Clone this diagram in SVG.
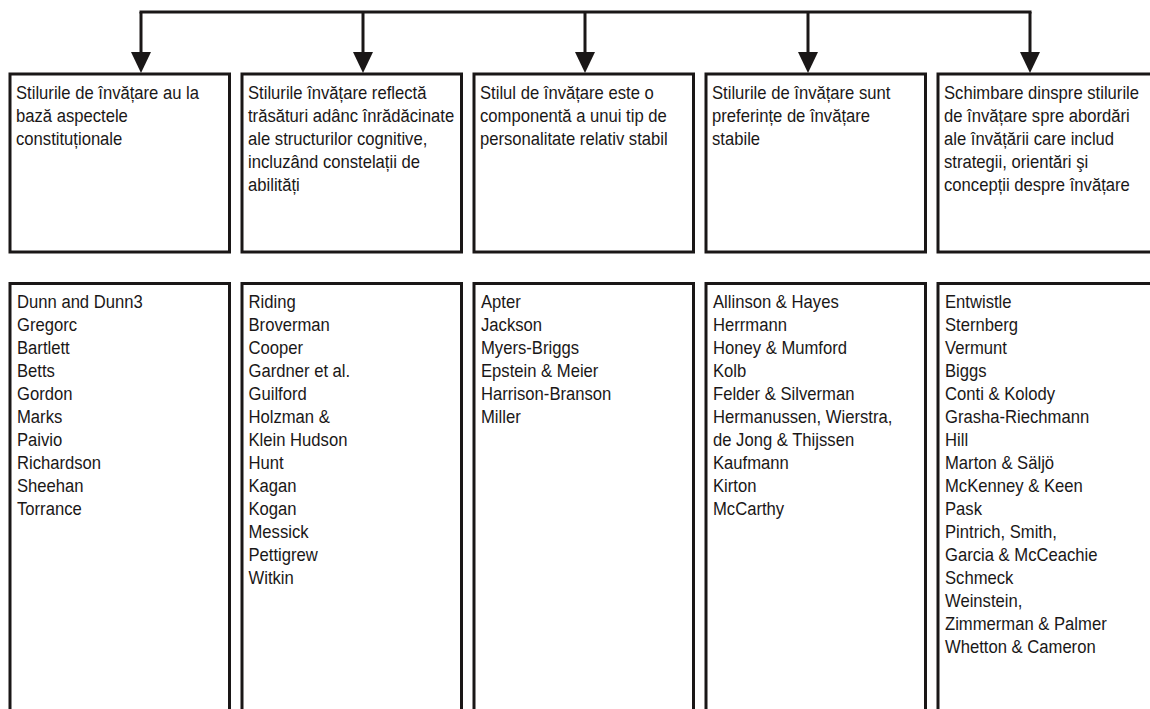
<svg xmlns="http://www.w3.org/2000/svg" width="1150" height="709" viewBox="0 0 1150 709">
<style>
.box{fill:#fff;stroke:#1a1717;stroke-width:3}
.t{font-family:"Liberation Sans",Arial,sans-serif;font-size:18.5px;fill:#1a1717}
.c{fill:none;stroke:#1a1717;stroke-width:3}
</style>
<defs>
<marker id="ah" markerUnits="userSpaceOnUse" viewBox="0 0 21 20" markerWidth="21" markerHeight="20" refX="13" refY="10" orient="auto">
<path d="M0,0 L21,10 L0,20 z" fill="#1a1717"/>
</marker>
</defs>
<rect width="1150" height="709" fill="#fff"/>
<g id="connectors">
<path class="c" d="M141,12 H1030" stroke-linecap="square"/>
<path class="c" d="M141,12 V65" marker-end="url(#ah)"/>
<path class="c" d="M363,12 V65" marker-end="url(#ah)"/>
<path class="c" d="M585,12 V65" marker-end="url(#ah)"/>
<path class="c" d="M808,12 V65" marker-end="url(#ah)"/>
<path class="c" d="M1030,12 V65" marker-end="url(#ah)"/>
</g>
<g id="h1">
<rect class="box" x="10" y="74" width="219.5" height="178"/>
<text class="t" transform="translate(16 99.3) scale(0.9 1)"><tspan x="0" y="0">Stilurile de învățare au la</tspan><tspan x="0" y="23">bază aspectele</tspan><tspan x="0" y="46">constituționale</tspan></text>
</g>
<g id="h2">
<rect class="box" x="242" y="74" width="219.5" height="178"/>
<text class="t" transform="translate(248 99.3) scale(0.9 1)"><tspan x="0" y="0">Stilurile învățare reflectă</tspan><tspan x="0" y="23">trăsături adânc înrădăcinate</tspan><tspan x="0" y="46">ale structurilor cognitive,</tspan><tspan x="0" y="69">incluzând constelații de</tspan><tspan x="0" y="92">abilități</tspan></text>
</g>
<g id="h3">
<rect class="box" x="474" y="74" width="219.5" height="178"/>
<text class="t" transform="translate(480 99.3) scale(0.9 1)"><tspan x="0" y="0">Stilul de învățare este o</tspan><tspan x="0" y="23">componentă a unui tip de</tspan><tspan x="0" y="46">personalitate relativ stabil</tspan></text>
</g>
<g id="h4">
<rect class="box" x="706" y="74" width="219.5" height="178"/>
<text class="t" transform="translate(712 99.3) scale(0.9 1)"><tspan x="0" y="0">Stilurile de învățare sunt</tspan><tspan x="0" y="23">preferințe de învățare</tspan><tspan x="0" y="46">stabile</tspan></text>
</g>
<g id="h5">
<rect class="box" x="938" y="74" width="219.5" height="178"/>
<text class="t" transform="translate(944 99.3) scale(0.9 1)"><tspan x="0" y="0">Schimbare dinspre stilurile</tspan><tspan x="0" y="23">de învățare spre abordări</tspan><tspan x="0" y="46">ale învățării care includ</tspan><tspan x="0" y="69">strategii, orientări şi</tspan><tspan x="0" y="92">concepții despre învățare</tspan></text>
</g>
<g id="l1">
<rect class="box" x="10" y="283.5" width="219.5" height="440"/>
<text class="t" transform="translate(17 308.3) scale(0.9 1)"><tspan x="0" y="0">Dunn and Dunn3</tspan><tspan x="0" y="23">Gregorc</tspan><tspan x="0" y="46">Bartlett</tspan><tspan x="0" y="69">Betts</tspan><tspan x="0" y="92">Gordon</tspan><tspan x="0" y="115">Marks</tspan><tspan x="0" y="138">Paivio</tspan><tspan x="0" y="161">Richardson</tspan><tspan x="0" y="184">Sheehan</tspan><tspan x="0" y="207">Torrance</tspan></text>
</g>
<g id="l2">
<rect class="box" x="242" y="283.5" width="219.5" height="440"/>
<text class="t" transform="translate(248.5 308.3) scale(0.9 1)"><tspan x="0" y="0">Riding</tspan><tspan x="0" y="23">Broverman</tspan><tspan x="0" y="46">Cooper</tspan><tspan x="0" y="69">Gardner et al.</tspan><tspan x="0" y="92">Guilford</tspan><tspan x="0" y="115">Holzman &amp;</tspan><tspan x="0" y="138">Klein Hudson</tspan><tspan x="0" y="161">Hunt</tspan><tspan x="0" y="184">Kagan</tspan><tspan x="0" y="207">Kogan</tspan><tspan x="0" y="230">Messick</tspan><tspan x="0" y="253">Pettigrew</tspan><tspan x="0" y="276">Witkin</tspan></text>
</g>
<g id="l3">
<rect class="box" x="474" y="283.5" width="219.5" height="440"/>
<text class="t" transform="translate(481 308.3) scale(0.9 1)"><tspan x="0" y="0">Apter</tspan><tspan x="0" y="23">Jackson</tspan><tspan x="0" y="46">Myers-Briggs</tspan><tspan x="0" y="69">Epstein &amp; Meier</tspan><tspan x="0" y="92">Harrison-Branson</tspan><tspan x="0" y="115">Miller</tspan></text>
</g>
<g id="l4">
<rect class="box" x="706" y="283.5" width="219.5" height="440"/>
<text class="t" transform="translate(713 308.3) scale(0.9 1)"><tspan x="0" y="0">Allinson &amp; Hayes</tspan><tspan x="0" y="23">Herrmann</tspan><tspan x="0" y="46">Honey &amp; Mumford</tspan><tspan x="0" y="69">Kolb</tspan><tspan x="0" y="92">Felder &amp; Silverman</tspan><tspan x="0" y="115">Hermanussen, Wierstra,</tspan><tspan x="0" y="138">de Jong &amp; Thijssen</tspan><tspan x="0" y="161">Kaufmann</tspan><tspan x="0" y="184">Kirton</tspan><tspan x="0" y="207">McCarthy</tspan></text>
</g>
<g id="l5">
<rect class="box" x="938" y="283.5" width="219.5" height="440"/>
<text class="t" transform="translate(945 308.3) scale(0.9 1)"><tspan x="0" y="0">Entwistle</tspan><tspan x="0" y="23">Sternberg</tspan><tspan x="0" y="46">Vermunt</tspan><tspan x="0" y="69">Biggs</tspan><tspan x="0" y="92">Conti &amp; Kolody</tspan><tspan x="0" y="115">Grasha-Riechmann</tspan><tspan x="0" y="138">Hill</tspan><tspan x="0" y="161">Marton &amp; Säljö</tspan><tspan x="0" y="184">McKenney &amp; Keen</tspan><tspan x="0" y="207">Pask</tspan><tspan x="0" y="230">Pintrich, Smith,</tspan><tspan x="0" y="253">Garcia &amp; McCeachie</tspan><tspan x="0" y="276">Schmeck</tspan><tspan x="0" y="299">Weinstein,</tspan><tspan x="0" y="322">Zimmerman &amp; Palmer</tspan><tspan x="0" y="345">Whetton &amp; Cameron</tspan></text>
</g>
</svg>
